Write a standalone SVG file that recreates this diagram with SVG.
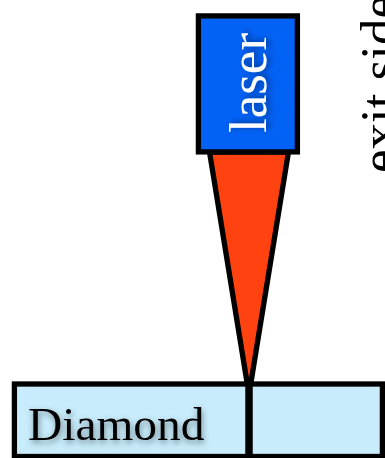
<svg xmlns="http://www.w3.org/2000/svg" width="385" height="458" viewBox="0 0 385 458">
<style>
.o{stroke:#000;stroke-width:5.3;stroke-linejoin:miter}
text{font-family:"Liberation Serif","Times New Roman",serif}
</style>
<defs>
<filter id="s" x="-20%" y="-30%" width="140%" height="160%"><feDropShadow dx="1" dy="3" stdDeviation="3" flood-color="#000" flood-opacity="0.45"/></filter>
</defs>
<rect width="385" height="458" fill="#fff"/>
<g id="beam"><polygon class="o" points="209.5,152 288.5,152 249,394.5" fill="#ff4210"/></g>
<g id="laser">
<rect class="o" x="198.4" y="15.9" width="99" height="136" fill="#0362f6"/>
<text transform="translate(266,133) rotate(-90)" font-size="53" fill="#fff" filter="url(#s)">laser</text>
</g>
<g id="exit-side"><text transform="translate(397,173) rotate(-90)" font-size="53" fill="#000">exit side</text></g>
<g id="diamond">
<rect class="o" x="14.4" y="384" width="368" height="72.5" fill="#c8ecfc"/>
<line x1="249" y1="382" x2="249" y2="458" stroke="#000" stroke-width="7.5"/>
<text x="28" y="440" font-size="47.4" fill="#000" filter="url(#s)">Diamond</text>
</g>
</svg>
